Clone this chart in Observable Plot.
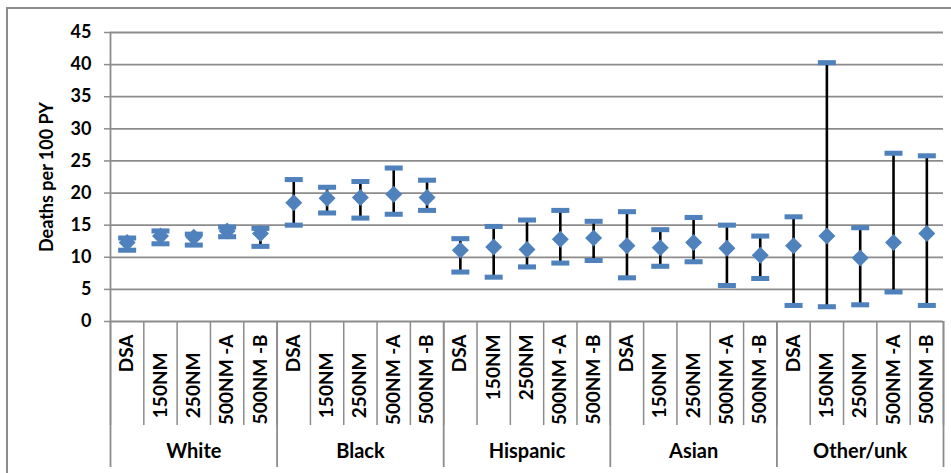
<!DOCTYPE html>
<html>
<head>
<meta charset="utf-8">
<script src="https://cdn.jsdelivr.net/npm/d3@7"></script>
<script src="https://cdn.jsdelivr.net/npm/@observablehq/plot@0.6"></script>
<style>
  html, body { margin: 0; padding: 0; background: #fff; overflow: hidden; }
  #wrap { position: relative; width: 951px; height: 473px; }
  #border { position: absolute; left: 6px; top: 7px; width: 960px; height: 500px;
            border-left: 2px solid #8c8c8c; border-top: 2px solid #8c8c8c; box-sizing: border-box; }
  #chart { position: absolute; left: 0; top: 0; }
</style>
</head>
<body>
<div id="wrap"><div id="border"></div><div id="chart"></div></div>
<script>
const groups = ["White", "Black", "Hispanic", "Asian", "Other/unk"];
const subcats = ["DSA", "150NM", "250NM", "500NM -A", "500NM -B"];
const yTicks = [0, 5, 10, 15, 20, 25, 30, 35, 40, 45];

// Means (diamonds), lower and upper bounds per group, in subcategory order
const meanWhite = [12.3, 13.3, 13.1, 14.1, 13.7];
const lowWhite  = [11.1, 12.1, 11.9, 13.2, 11.7];
const highWhite = [13.0, 14.1, 13.6, 14.7, 14.5];

const meanBlack = [18.5, 19.2, 19.3, 19.8, 19.3];
const lowBlack  = [15.0, 16.9, 16.1, 16.7, 17.3];
const highBlack = [22.1, 20.9, 21.8, 23.9, 22.0];

const meanHispanic = [11.1, 11.6, 11.2, 12.8, 13.0];
const lowHispanic  = [7.7, 6.9, 8.5, 9.1, 9.5];
const highHispanic = [12.9, 14.8, 15.8, 17.3, 15.6];

const meanAsian = [11.8, 11.5, 12.3, 11.4, 10.3];
const lowAsian  = [6.8, 8.6, 9.3, 5.6, 6.7];
const highAsian = [17.1, 14.3, 16.2, 15.0, 13.3];

const meanOther = [11.8, 13.3, 9.9, 12.3, 13.7];
const lowOther  = [2.5, 2.3, 2.6, 4.6, 2.5];
const highOther = [16.3, 40.3, 14.6, 26.2, 25.8];

const means = [meanWhite, meanBlack, meanHispanic, meanAsian, meanOther];
const lows = [lowWhite, lowBlack, lowHispanic, lowAsian, lowOther];
const highs = [highWhite, highBlack, highHispanic, highAsian, highOther];

// In the original, these groups' 150NM / 250NM labels sit lower
const loweredLabelGroups = ["White", "Black", "Asian", "Other/unk"];
const loweredLabelSubs = ["150NM", "250NM"];

const data = [];
groups.forEach((g, gi) => subcats.forEach((s, si) => {
  data.push({i: gi * subcats.length + si, group: g, sub: s,
             mean: means[gi][si], lo: lows[gi][si], hi: highs[gi][si]});
}));

const n = data.length;
const per = subcats.length;
const boundaries = d3.range(n + 1).map(k => k - 0.5);
const groupBoundaries = d3.range(groups.length + 1).map(k => k * per - 0.5);
const groupCenters = groups.map((g, k) => k * per + (per - 1) / 2);
const isLowered = d => loweredLabelGroups.includes(d.group) && loweredLabelSubs.includes(d.sub);
const centersTop = data.filter(d => !isLowered(d)).map(d => d.i);
const centersLow = data.filter(isLowered).map(d => d.i);

const blue = "#4f81bd";
const gray = "#8c8c8c";

const capSymbol = {
  draw(ctx, size) {
    const a = Math.sqrt(size / Math.PI);
    const b = a * 0.28;
    ctx.moveTo(-a, -b); ctx.lineTo(a, -b); ctx.lineTo(a, b); ctx.lineTo(-a, b); ctx.closePath();
  }
};
const diamondSymbol = {
  draw(ctx, size) {
    const a = Math.sqrt(size / Math.PI);
    ctx.moveTo(0, -a); ctx.lineTo(a, 0); ctx.lineTo(0, a); ctx.lineTo(-a, 0); ctx.closePath();
  }
};

const labelOpts = {tickSize: 0, tickRotate: -90, fontSize: 19, fontWeight: "bold",
  fill: "#000", tickFormat: i => subcats[i % per], label: null};

const chart = Plot.plot({
  width: 951,
  height: 473,
  marginLeft: 110,
  marginRight: 8,
  marginTop: 32,
  marginBottom: 152,
  style: {fontFamily: "Lato, 'Open Sans', sans-serif", background: "transparent"},
  x: {domain: [-0.5, n - 0.5], axis: null},
  y: {domain: [0, 45], axis: null},
  marks: [
    Plot.gridY(yTicks, {stroke: gray, strokeOpacity: 1, strokeWidth: 1.8}),
    Plot.ruleX([-0.5], {stroke: gray, strokeWidth: 1.8}),
    Plot.axisY(yTicks, {tickSize: 6, tickPadding: 13, fontSize: 18, fontWeight: "bold",
      stroke: gray, strokeWidth: 1.5, fill: "#000",
      label: "Deaths per 100 PY", labelAnchor: "center", labelArrow: "none", labelOffset: 70}),
    Plot.axisX(boundaries, {tickSize: 104, tickFormat: () => "", stroke: gray, strokeWidth: 1.5, label: null}),
    Plot.axisX(groupBoundaries, {tickSize: 146, tickFormat: () => "", stroke: gray, strokeWidth: 1.8, label: null}),
    Plot.axisX(centersTop, {...labelOpts, tickPadding: 13}),
    Plot.axisX(centersLow, {...labelOpts, tickPadding: 31}),
    Plot.axisX(groupCenters, {tickSize: 0, tickPadding: 122, fontSize: 20, fontWeight: "bold",
      fill: "#000", tickFormat: i => groups[Math.floor(i / per)], label: null}),
    Plot.ruleX(data, {x: "i", y1: "lo", y2: "hi", stroke: "#000", strokeWidth: 2.6}),
    Plot.dot(data, {x: "i", y: "lo", symbol: capSymbol, r: 9, fill: blue, stroke: null}),
    Plot.dot(data, {x: "i", y: "hi", symbol: capSymbol, r: 9, fill: blue, stroke: null}),
    Plot.dot(data, {x: "i", y: "mean", symbol: diamondSymbol, r: 8.5, fill: blue, stroke: null})
  ]
});
document.getElementById("chart").appendChild(chart);
</script>
</body>
</html>
